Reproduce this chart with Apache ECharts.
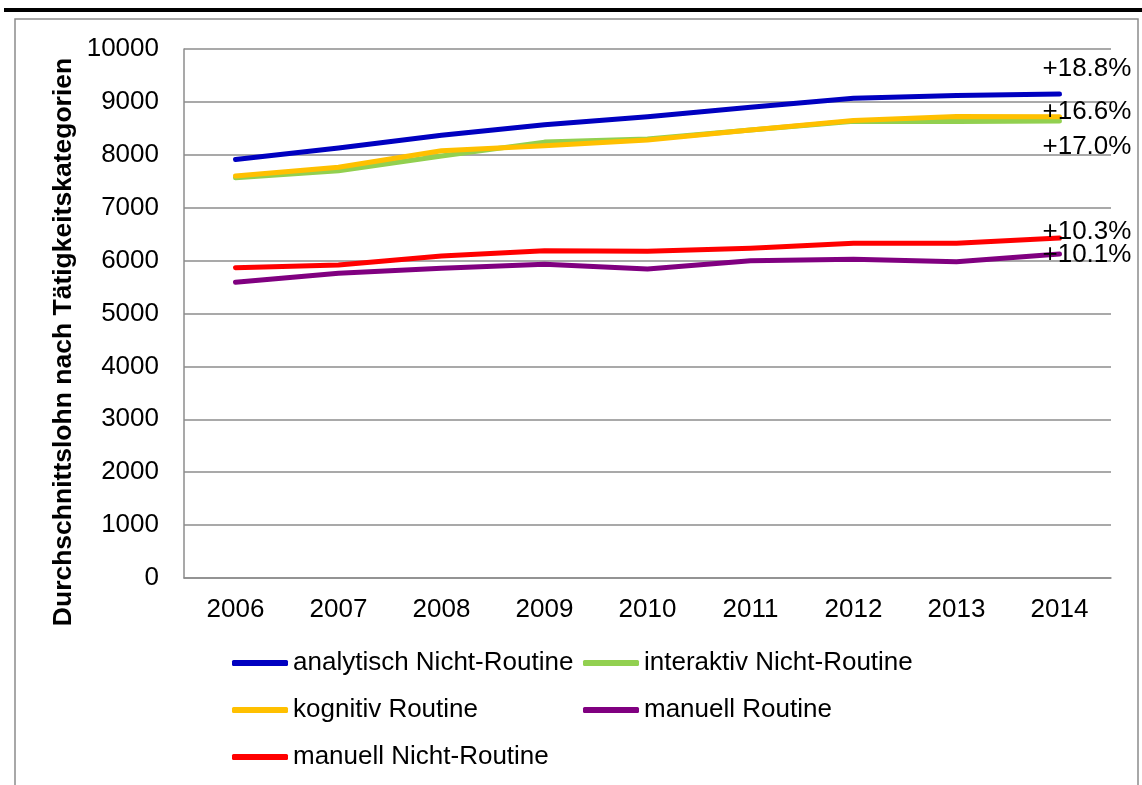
<!DOCTYPE html>
<html>
<head>
<meta charset="utf-8">
<script src="https://cdn.jsdelivr.net/npm/echarts@6/dist/echarts.min.js"></script>
<style>
html,body{margin:0;padding:0;background:#fff;}
#chart{width:1142px;height:785px;}
</style>
</head>
<body>
<div id="chart"></div>
<script>
const years = ['2006','2007','2008','2009','2010','2011','2012','2013','2014'];
const analytischNR = [7910, 8130, 8370, 8570, 8720, 8900, 9070, 9120, 9150];
const interaktivNR = [7567, 7700, 7977, 8240, 8300, 8470, 8635, 8630, 8640];
const kognitivR    = [7599, 7763, 8078, 8172, 8280, 8469, 8650, 8725, 8720];
const manuellR     = [5590, 5760, 5854, 5930, 5841, 5998, 6024, 5980, 6125];
const manuellNR    = [5866, 5917, 6087, 6188, 6175, 6232, 6327, 6327, 6427];
const seriesNames = ['analytisch Nicht-Routine','interaktiv Nicht-Routine','kognitiv Routine','manuell Routine','manuell Nicht-Routine'];
const changeLabels = ['+18.8%','+17.0%','+16.6%','+10.1%','+10.3%'];
const yTicks = {min: 0, max: 10000, interval: 1000};
const yTitle = 'Durchschnittslohn nach Tätigkeitskategorien';

const FONT = 'Liberation Sans, Arial, Helvetica, sans-serif';
const colors = ['#0000C0','#92D050','#FFC000','#800080','#FF0000'];
const dataSets = [analytischNR, interaktivNR, kognitivR, manuellR, manuellNR];
const labelDy = [-25, 26, -5, 1, -6];

const chart = echarts.init(document.getElementById('chart'), null, {renderer:'canvas'});
const series = dataSets.map((d, i) => ({
  name: seriesNames[i],
  type: 'line',
  data: d,
  symbol: 'none',
  smooth: false,
  lineStyle: {width: 5, color: colors[i], cap: 'round', join: 'round'},
  itemStyle: {color: colors[i]},
  endLabel: {
    show: true,
    formatter: changeLabels[i],
    color: '#000',
    fontFamily: FONT,
    fontSize: 26,
    distance: 0,
    align: 'left',
    offset: [-17, labelDy[i]]
  },
  emphasis: {disabled: true}
}));

const legendText = {color: '#000', fontFamily: FONT, fontSize: 26, lineHeight: 25};
chart.setOption({
  animation: false,
  backgroundColor: '#fff',
  grid: {left: 184, right: 31, top: 49, bottom: 207, containLabel: false},
  xAxis: {
    type: 'category',
    data: years,
    boundaryGap: true,
    axisLine: {lineStyle: {color: '#8c8c8c', width: 1.5}},
    axisTick: {show: false},
    axisLabel: {color: '#000', fontFamily: FONT, fontSize: 26, margin: 19}
  },
  yAxis: {
    type: 'value',
    min: yTicks.min, max: yTicks.max, interval: yTicks.interval,
    axisLine: {show: true, lineStyle: {color: '#8c8c8c', width: 1.5}},
    axisTick: {show: false},
    splitLine: {lineStyle: {color: '#8c8c8c', width: 1.5}},
    axisLabel: {color: '#000', fontFamily: FONT, fontSize: 26, margin: 25, formatter: v => String(v)}
  },
  legend: [
    {
      data: [seriesNames[0], seriesNames[2], seriesNames[4]],
      orient: 'vertical', left: 232, top: 650, itemGap: 21, padding: 0,
      itemWidth: 56, itemHeight: 6, icon: 'roundRect',
      textStyle: legendText, selectedMode: false
    },
    {
      data: [seriesNames[1], seriesNames[3]],
      orient: 'vertical', left: 583, top: 650, itemGap: 21, padding: 0,
      itemWidth: 56, itemHeight: 6, icon: 'roundRect',
      textStyle: legendText, selectedMode: false
    }
  ],
  graphic: [
    {type: 'rect', shape: {x: 4, y: 8, width: 1138, height: 4}, style: {fill: '#000'}, silent: true},
    {type: 'rect', shape: {x: 15, y: 19, width: 1123, height: 800}, style: {fill: 'none', stroke: '#8c8c8c', lineWidth: 1.5}, silent: true},
    {type: 'text', x: 64, y: 342, rotation: Math.PI / 2,
     style: {text: yTitle, fill: '#000', font: 'bold 26.5px ' + FONT, textAlign: 'center', textVerticalAlign: 'middle'}, silent: true}
  ],
  series: series
});
</script>
</body>
</html>
